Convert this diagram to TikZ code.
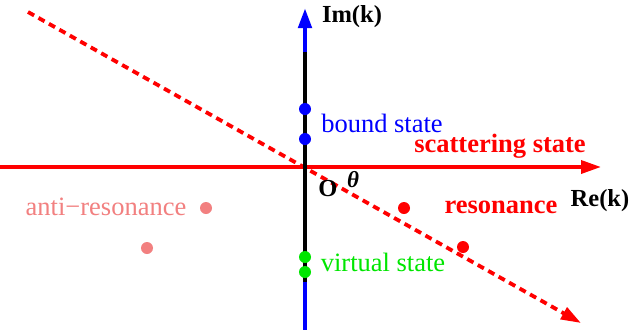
\documentclass[tikz,border=0pt]{standalone}
\usepackage{fontspec}
\setmainfont{Liberation Serif}
\usetikzlibrary{arrows.meta}
\definecolor{pinkred}{RGB}{242,128,128}
\definecolor{brightgreen}{RGB}{0,230,0}
\tikzset{
  pole/.style={circle, inner sep=0pt, minimum size=12pt},
  lbl/.style={font=\fontsize{26.5}{26.5}\selectfont, inner sep=0pt},
  axlbl/.style={font=\fontsize{24.5}{24.5}\selectfont\bfseries, inner sep=0pt}
}
\begin{document}
\begin{tikzpicture}[x=1pt, y=-1pt, >={Triangle[length=20pt, width=13pt]}]
  \useasboundingbox[fill=white] (0,0) rectangle (630,330);
  % axes of the complex k plane
  \coordinate (O) at (305,167);
  \coordinate (imtop) at (305,8);
  \coordinate (imup) at (305,52);
  \coordinate (imlow) at (305,282);
  \coordinate (imbot) at (305,330);
  \coordinate (releft) at (0,167);
  \coordinate (retip) at (601,167);
  \coordinate (rayA) at (28,12);
  \coordinate (rayB) at (581,323);
  \draw[red, line width=3.8pt, dash pattern=on 7pt off 5pt, ->] (rayA) -- (rayB);
  \draw[red, line width=3.5pt, ->] (releft) -- (retip);
  \draw[black, line width=3.5pt] (imup) -- (imlow);
  \draw[blue, line width=4.5pt, ->] (imup) -- (imtop);
  \draw[blue, line width=4.5pt] (imlow) -- (imbot);
  % poles
  \node[pole, fill=blue] (b1) at (305,109) {};
  \node[pole, fill=blue] (b2) at (305,139) {};
  \node[pole, fill=brightgreen] (v1) at (305,257) {};
  \node[pole, fill=brightgreen] (v2) at (305,272) {};
  \node[pole, fill=red] (r1) at (404,208) {};
  \node[pole, fill=red] (r2) at (463,247) {};
  \node[pole, fill=pinkred] (a1) at (206,208) {};
  \node[pole, fill=pinkred] (a2) at (147,248) {};
  % labels
  \node[axlbl] (im) at (352,17) {Im(k)};
  \node[axlbl] (re) at (600,201) {Re(k)};
  \node[axlbl] (orig) at (328,189) {O};
  \node[font=\fontsize{23}{23}\selectfont\bfseries\itshape, inner sep=0pt] (th) at (353,180) {θ};
  \node[lbl, blue] (bound) at (382,123) {bound state};
  \node[lbl, red, font=\fontsize{26.5}{26.5}\selectfont\bfseries] (scat) at (500,146) {scattering state};
  \node[lbl, red, font=\fontsize{26.5}{26.5}\selectfont\bfseries] (res) at (501,207) {resonance};
  \node[lbl, pinkred] (anti) at (106,207) {anti−resonance};
  \node[lbl, brightgreen] (virt) at (383,262) {virtual state};
\end{tikzpicture}
\end{document}
